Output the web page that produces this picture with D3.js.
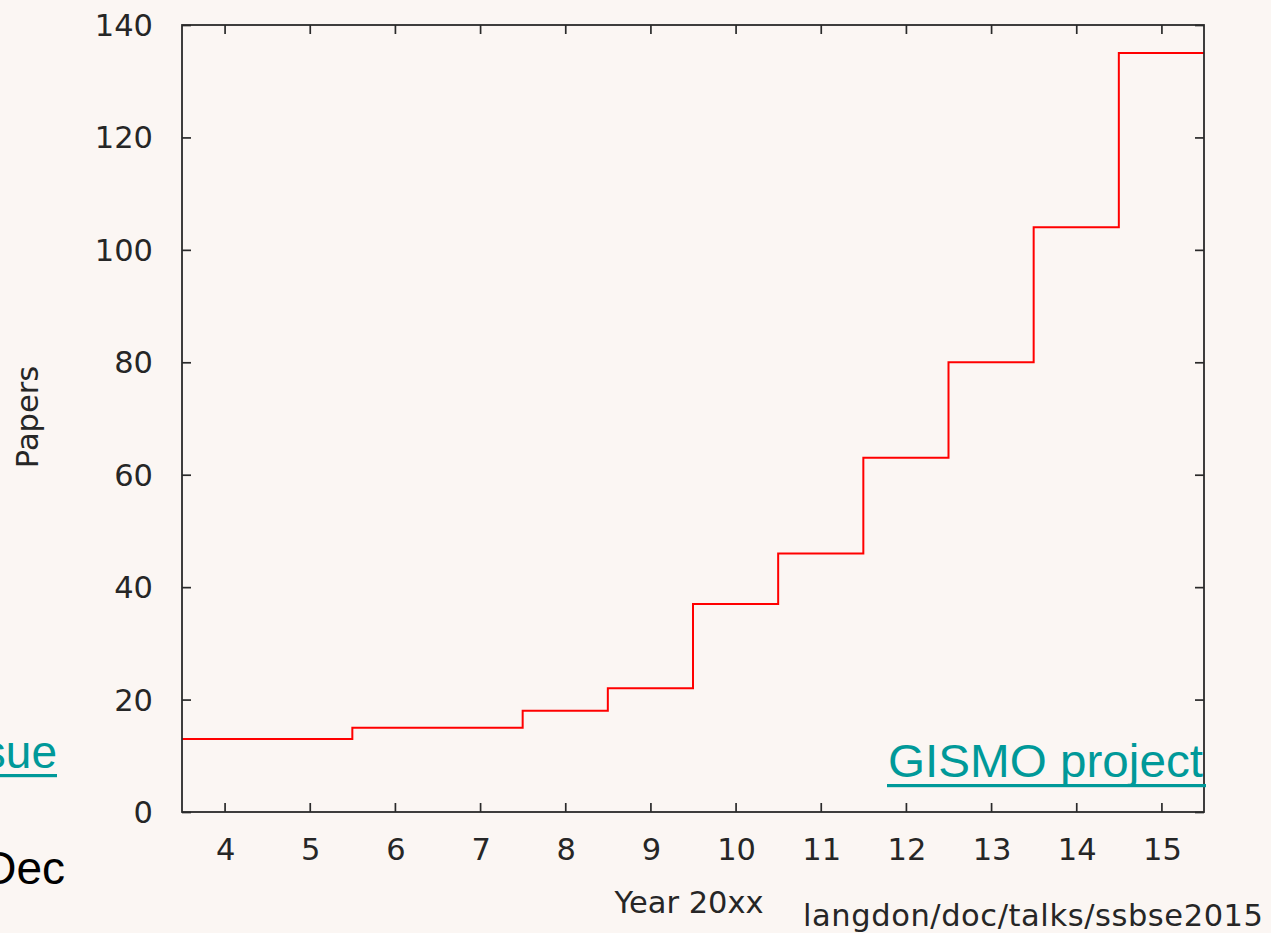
<!DOCTYPE html>
<html>
<head>
<meta charset="utf-8">
<script src="https://cdn.jsdelivr.net/npm/d3@7/dist/d3.min.js"></script>
<style>
  html, body { margin: 0; padding: 0; background: #fbf6f3; }
  svg { display: block; }
</style>
</head>
<body>
<svg id="chart" width="1271" height="933"></svg>
<script>
const years = [4, 5, 6, 7, 8, 9, 10, 11, 12, 13, 14, 15];
const papers = [13, 13, 15, 15, 18, 22, 37, 46, 63, 80, 104, 135];
const xTicks = [4, 5, 6, 7, 8, 9, 10, 11, 12, 13, 14, 15];
const yTicks = [0, 20, 40, 60, 80, 100, 120, 140];
const xDomain = [3.5, 15.5];
const yDomain = [0, 140];

const svg = d3.select("#chart");
const W = 1271, H = 933;
svg.append("rect").attr("width", W).attr("height", H).attr("fill", "#fbf6f3");

const pLeft = 182, pRight = 1204, pTop = 25, pBottom = 812;
const x = d3.scaleLinear().domain(xDomain).range([pLeft, pRight]);
const y = d3.scaleLinear().domain(yDomain).range([pBottom, pTop]);

const axisColor = "#2a2a2a";
const fontG = "'DejaVu Sans', sans-serif";
const gSize = 30.5;
const gColor = "#262626";
const tickLen = 9;

// step line (histogram steps centred on each year)
const stepData = years.map((yr, i) => ({ x: yr - 0.5, v: papers[i] }));
stepData.push({ x: years[years.length - 1] + 0.5, v: papers[papers.length - 1] });
const line = d3.line().x(d => x(d.x)).y(d => y(d.v)).curve(d3.curveStepAfter);
svg.append("path")
  .datum(stepData)
  .attr("d", line)
  .attr("fill", "none")
  .attr("stroke", "#ff0000")
  .attr("stroke-width", 2);

// axes with mirrored ticks
function styleAxis(g) {
  g.select(".domain").remove();
  g.selectAll(".tick line").attr("stroke", axisColor).attr("stroke-width", 1.7);
}
const gxB = svg.append("g").attr("transform", `translate(0,${pBottom})`)
  .call(d3.axisTop(x).tickValues(xTicks).tickSize(tickLen).tickFormat(""));
styleAxis(gxB);
const gxT = svg.append("g").attr("transform", `translate(0,${pTop})`)
  .call(d3.axisBottom(x).tickValues(xTicks).tickSize(tickLen).tickFormat(""));
styleAxis(gxT);
const gyL = svg.append("g").attr("transform", `translate(${pLeft},0)`)
  .call(d3.axisRight(y).tickValues(yTicks).tickSize(tickLen).tickFormat(""));
styleAxis(gyL);
const gyR = svg.append("g").attr("transform", `translate(${pRight},0)`)
  .call(d3.axisLeft(y).tickValues(yTicks).tickSize(tickLen).tickFormat(""));
styleAxis(gyR);

// tick labels
svg.append("g").selectAll("text").data(xTicks).join("text")
  .attr("x", d => x(d) + 1).attr("y", 860)
  .attr("text-anchor", "middle")
  .attr("font-family", fontG).attr("font-size", gSize).attr("fill", gColor)
  .text(d => d);
svg.append("g").selectAll("text").data(yTicks).join("text")
  .attr("x", 153).attr("y", d => y(d)).attr("dy", "0.36em")
  .attr("text-anchor", "end")
  .attr("font-family", fontG).attr("font-size", gSize).attr("fill", gColor)
  .text(d => d);

// frame
svg.append("rect")
  .attr("x", pLeft).attr("y", pTop)
  .attr("width", pRight - pLeft).attr("height", pBottom - pTop)
  .attr("fill", "none").attr("stroke", axisColor).attr("stroke-width", 1.8);

// axis titles
svg.append("text")
  .attr("x", 689).attr("y", 913)
  .attr("text-anchor", "middle")
  .attr("font-family", fontG).attr("font-size", gSize).attr("fill", gColor)
  .text("Year 20xx");
svg.append("text")
  .attr("transform", "translate(38,417) rotate(-90)")
  .attr("text-anchor", "middle")
  .attr("font-family", fontG).attr("font-size", gSize).attr("fill", gColor)
  .text("Papers");

svg.append("text")
  .attr("x", 803).attr("y", 926)
  .attr("textLength", 460).attr("lengthAdjust", "spacing")
  .attr("font-family", fontG).attr("font-size", gSize).attr("fill", gColor)
  .text("langdon/doc/talks/ssbse2015");

// slide overlay texts
const teal = "#009999";
const fontA = "'Liberation Sans', Arial, sans-serif";
svg.append("text")
  .attr("x", 888).attr("y", 777)
  .attr("textLength", 315).attr("lengthAdjust", "spacingAndGlyphs")
  .attr("font-family", fontA).attr("font-size", 46).attr("fill", teal)
  .text("GISMO project");
svg.append("rect").attr("x", 887).attr("y", 784).attr("width", 319).attr("height", 3.2).attr("fill", teal);

svg.append("text")
  .attr("x", 57).attr("y", 768)
  .attr("text-anchor", "end")
  .attr("font-family", fontA).attr("font-size", 46).attr("fill", teal)
  .text("ssue");
svg.append("rect").attr("x", 0).attr("y", 774).attr("width", 57).attr("height", 3.2).attr("fill", teal);

svg.append("text")
  .attr("x", 65).attr("y", 884)
  .attr("text-anchor", "end")
  .attr("font-family", fontA).attr("font-size", 46).attr("fill", "#000")
  .text("Dec");
</script>
</body>
</html>
